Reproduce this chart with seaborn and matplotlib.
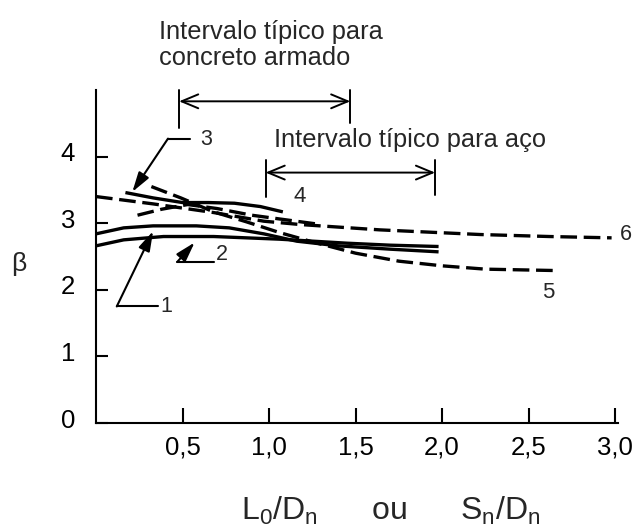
import matplotlib
matplotlib.use("Agg")
import matplotlib.pyplot as plt
import matplotlib.transforms as mtransforms
import numpy as np
import pandas as pd
import seaborn as sns

# Reliability index curves (beta vs load ratio)
c1_x = [0.0, 0.16, 0.33, 0.58, 0.77, 0.97, 1.16, 1.40, 1.70, 1.98]
c1_y = [2.84, 2.93, 2.96, 2.96, 2.93, 2.84, 2.73, 2.66, 2.61, 2.57]

c2_x = [0.0, 0.16, 0.39, 0.68, 1.06, 1.45, 1.70, 1.98]
c2_y = [2.66, 2.75, 2.80, 2.80, 2.76, 2.70, 2.67, 2.65]

c3_x = [0.17, 0.33, 0.50, 0.65, 0.80, 0.95, 1.08]
c3_y = [3.46, 3.38, 3.31, 3.31, 3.30, 3.25, 3.17]

c4_x = [0.24, 0.38, 0.53, 0.70, 0.90, 1.10, 1.30]
c4_y = [3.12, 3.21, 3.28, 3.22, 3.12, 3.05, 2.98]

c5_x = [0.32, 0.49, 0.68, 0.87, 1.06, 1.25, 1.50, 1.75, 2.00, 2.25, 2.64]
c5_y = [3.55, 3.38, 3.17, 3.02, 2.86, 2.72, 2.55, 2.43, 2.36, 2.31, 2.29]

c6_x = [0.0, 0.33, 0.68, 0.97, 1.18, 1.64, 2.22, 2.62, 2.98]
c6_y = [3.40, 3.29, 3.16, 3.03, 2.98, 2.90, 2.83, 2.80, 2.78]

x_ticks = [0.5, 1.0, 1.5, 2.0, 2.5, 3.0]
x_tick_labels = ["0,5", "1,0", "1,5", "2,0", "2,5", "3,0"]
y_ticks = [0, 1, 2, 3, 4]
y_tick_labels = ["0", "1", "2", "3", "4"]

concrete_range = [0.48, 1.47]
steel_range = [0.98, 1.96]

sns.set_style("ticks")
plt.rcParams["font.family"] = ["Liberation Sans", "DejaVu Sans"]
plt.rcParams["mathtext.fontset"] = "custom"
plt.rcParams["mathtext.rm"] = "Liberation Sans"
plt.rcParams["mathtext.it"] = "Liberation Sans"

fig = plt.figure(figsize=(6.38, 5.28), dpi=100)
ax = fig.add_axes([96 / 638, 105 / 528, 522 / 638, 333 / 528])

LW = 2.4
DASH = (5, 2)

def draw(xs, ys, dashed=False):
    df = pd.DataFrame({"x": xs, "y": ys})
    n_before = len(ax.lines)
    sns.lineplot(data=df, x="x", y="y", ax=ax, color="black", lw=LW,
                 sort=False, estimator=None, legend=False)
    line = ax.lines[n_before]
    line.set_solid_capstyle("butt")
    if dashed:
        line.set_dashes(DASH)
        line.set_dash_capstyle("butt")

draw(c1_x, c1_y)
draw(c2_x, c2_y)
draw(c3_x, c3_y)
draw(c4_x, c4_y, dashed=True)
draw(c5_x, c5_y, dashed=True)
draw(c6_x, c6_y, dashed=True)

ax.set_xlim(0, 3.017)
ax.set_ylim(0, 5.0)
ax.set_xticks(x_ticks)
ax.set_xticklabels(x_tick_labels)
ax.set_yticks(y_ticks)
ax.set_yticklabels(y_tick_labels)
for side in ("top", "right"):
    ax.spines[side].set_visible(False)
for side in ("left", "bottom"):
    ax.spines[side].set_linewidth(1.5)
    ax.spines[side].set_color("black")
ax.tick_params(axis="x", direction="in", length=11, width=1.5, pad=9,
               labelsize=18.5, colors="black")
ax.tick_params(axis="y", direction="in", length=8.5, width=1.5, pad=15,
               labelsize=18.5, colors="black")
# lift the y tick labels slightly
lift = mtransforms.ScaledTranslation(0, 5 / 100, fig.dpi_scale_trans)
for lab in ax.get_yticklabels():
    lab.set_transform(lab.get_transform() + lift)

ax.set_xlabel("")
ax.set_ylabel("")
fig.text(19 / 638, 1 - 264 / 528, "β", fontsize=19, ha="center", va="center")
fig.text(391 / 638, 1 - 511 / 528,
         r"$\mathregular{L_0/D_n}$      ou      $\mathregular{S_n/D_n}$",
         fontsize=23, ha="center", va="center")

# Typical ranges
def interval(x0, x1, y, bar_lo0, bar_lo1, bar_hi):
    ax.plot([x0, x0], [bar_lo0, bar_hi], color="black", lw=1.4, clip_on=False)
    ax.plot([x1, x1], [bar_lo1, bar_hi], color="black", lw=1.4, clip_on=False)
    ax.annotate("", xy=(x0, y), xytext=(x1, y),
                arrowprops=dict(arrowstyle="<->,head_length=0.6,head_width=0.25",
                                lw=1.4, color="black", shrinkA=0, shrinkB=0,
                                mutation_scale=20),
                annotation_clip=False)

interval(concrete_range[0], concrete_range[1], 4.83, 4.43, 4.50, 5.0)
interval(steel_range[0], steel_range[1], 3.76, 3.40, 3.43, 3.95)

ax.text(0.364, 5.77, "Intervalo típico para", fontsize=18.3, va="baseline", ha="left")
ax.text(0.364, 5.38, "concreto armado", fontsize=18.3, va="baseline", ha="left")
ax.text(1.03, 4.15, "Intervalo típico para aço", fontsize=18.3, va="baseline", ha="left")

# Curve labels with leaders
lead = dict(color="black", lw=1.5)
head = dict(arrowstyle="-|>,head_length=0.6,head_width=0.18", lw=1.5,
            color="black", shrinkA=0, shrinkB=0, mutation_scale=20)

ax.plot([0.416, 0.543], [4.27, 4.27], **lead)
ax.annotate("", xy=(0.21, 3.47), xytext=(0.416, 4.27), arrowprops=head)
ax.text(0.60, 4.18, "3", fontsize=15.5, va="baseline")

ax.plot([0.12, 0.36], [1.75, 1.75], **lead)
ax.annotate("", xy=(0.33, 2.88), xytext=(0.12, 1.75), arrowprops=head)
ax.text(0.37, 1.66, "1", fontsize=15.5, va="baseline")

ax.plot([0.47, 0.68], [2.42, 2.42], **lead)
ax.annotate("", xy=(0.57, 2.71), xytext=(0.47, 2.42), arrowprops=head)
ax.text(0.69, 2.45, "2", fontsize=15.5, va="baseline")

ax.text(1.14, 3.32, "4", fontsize=16, va="baseline")
ax.text(2.58, 1.88, "5", fontsize=16, va="baseline")
ax.text(3.03, 2.75, "6", fontsize=15.5, va="baseline", clip_on=False)

fig.savefig("out.png", dpi=100, facecolor="white")
